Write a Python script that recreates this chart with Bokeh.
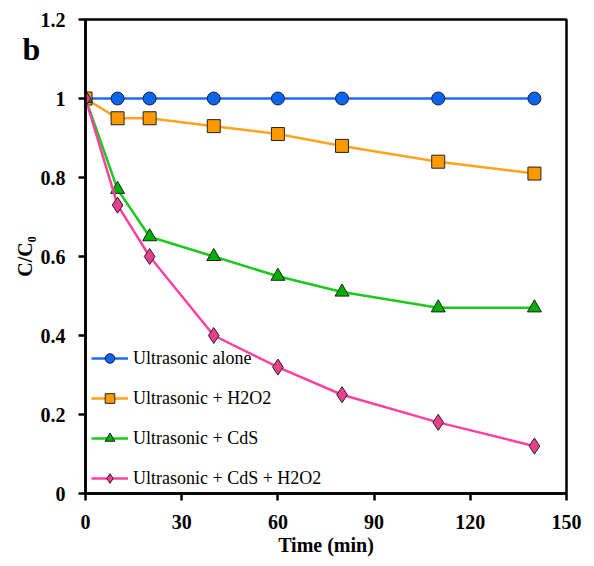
from bokeh.plotting import figure
from bokeh.models import Range1d, FixedTicker, CustomJSTickFormatter, Legend, LegendItem, Label
from bokeh.embed import file_html
from bokeh.resources import INLINE

time_min = [0, 10, 20, 40, 60, 80, 110, 140]
us_alone = [1.0, 1.0, 1.0, 1.0, 1.0, 1.0, 1.0, 1.0]
us_h2o2 = [1.0, 0.95, 0.95, 0.93, 0.91, 0.88, 0.84, 0.81]
us_cds = [1.0, 0.77, 0.65, 0.60, 0.55, 0.51, 0.47, 0.47]
us_cds_h2o2 = [1.0, 0.73, 0.60, 0.40, 0.32, 0.25, 0.18, 0.12]
series_names = ["Ultrasonic alone", "Ultrasonic + H2O2", "Ultrasonic + CdS", "Ultrasonic + CdS + H2O2"]
x_ticks = [0, 30, 60, 90, 120, 150]
y_ticks = [0, 0.2, 0.4, 0.6, 0.8, 1.0, 1.2]

FONT = "Liberation Serif"

p = figure(width=586, height=558, output_backend="svg", toolbar_location=None,
           x_range=Range1d(0, 150), y_range=Range1d(0, 1.2),
           min_border_left=85, min_border_right=20, min_border_top=19, min_border_bottom=63)
p.grid.visible = False
p.outline_line_color = "black"
p.outline_line_width = 2.5

for ax in (p.xaxis[0], p.yaxis[0]):
    ax.axis_line_width = 2.5
    ax.axis_line_color = "black"
    ax.major_tick_line_width = 2.5
    ax.major_tick_out = 7
    ax.major_tick_in = 0
    ax.minor_tick_out = 0
    ax.minor_tick_in = 0
    ax.major_label_text_font = FONT
    ax.major_label_text_font_style = "bold"
    ax.major_label_text_font_size = "20px"
    ax.major_label_text_color = "black"
    ax.axis_label_text_font = FONT
    ax.axis_label_text_font_style = "bold"
    ax.axis_label_text_font_size = "20px"
    ax.axis_label_text_color = "black"

p.xaxis.ticker = FixedTicker(ticks=x_ticks)
p.yaxis.ticker = FixedTicker(ticks=y_ticks)
p.yaxis.formatter = CustomJSTickFormatter(code="return tick.toFixed(1).replace(/\\.0$/, '');")
p.xaxis.major_label_standoff = 14
p.yaxis.major_label_standoff = 13
p.xaxis.axis_label = "Time (min)"
p.yaxis.axis_label = "C/C\u2080"
p.xaxis.axis_label_standoff = 2
p.yaxis.axis_label_standoff = 2

styles = [
    ("#1a6cff", "#0a64f0", "circle", 13),
    ("#ffa31a", "#ff9900", "square", 13),
    ("#1cc81c", "#00b000", "triangle", 14),
    ("#ff40a0", "#e8408c", "diamond", 16),
]
data = [us_alone, us_h2o2, us_cds, us_cds_h2o2]

items = []
for name, ys, (lc, fc, mk, sz) in zip(series_names, data, styles):
    l = p.line(time_min, ys, line_color=lc, line_width=2.5)
    s = p.scatter(time_min, ys, marker=mk, size=sz, fill_color=fc, line_color="#222222", line_width=1)
    items.append(LegendItem(label=name, renderers=[l, s]))

legend = Legend(items=items, location=(6, 3), orientation="vertical",
                glyph_width=37, glyph_height=24, label_height=24, spacing=16,
                label_standoff=5, padding=0, margin=0,
                border_line_color=None, background_fill_alpha=0,
                label_text_font=FONT, label_text_font_size="18px", label_text_color="black")
p.add_layout(legend)

p.add_layout(Label(x=-544, y=445, x_units="screen", y_units="screen", text="b", text_font=FONT,
                   text_font_style="bold", text_font_size="32px", text_baseline="alphabetic",
                   text_color="black"), "right")

open("out.html", "w").write(file_html(p, INLINE))
